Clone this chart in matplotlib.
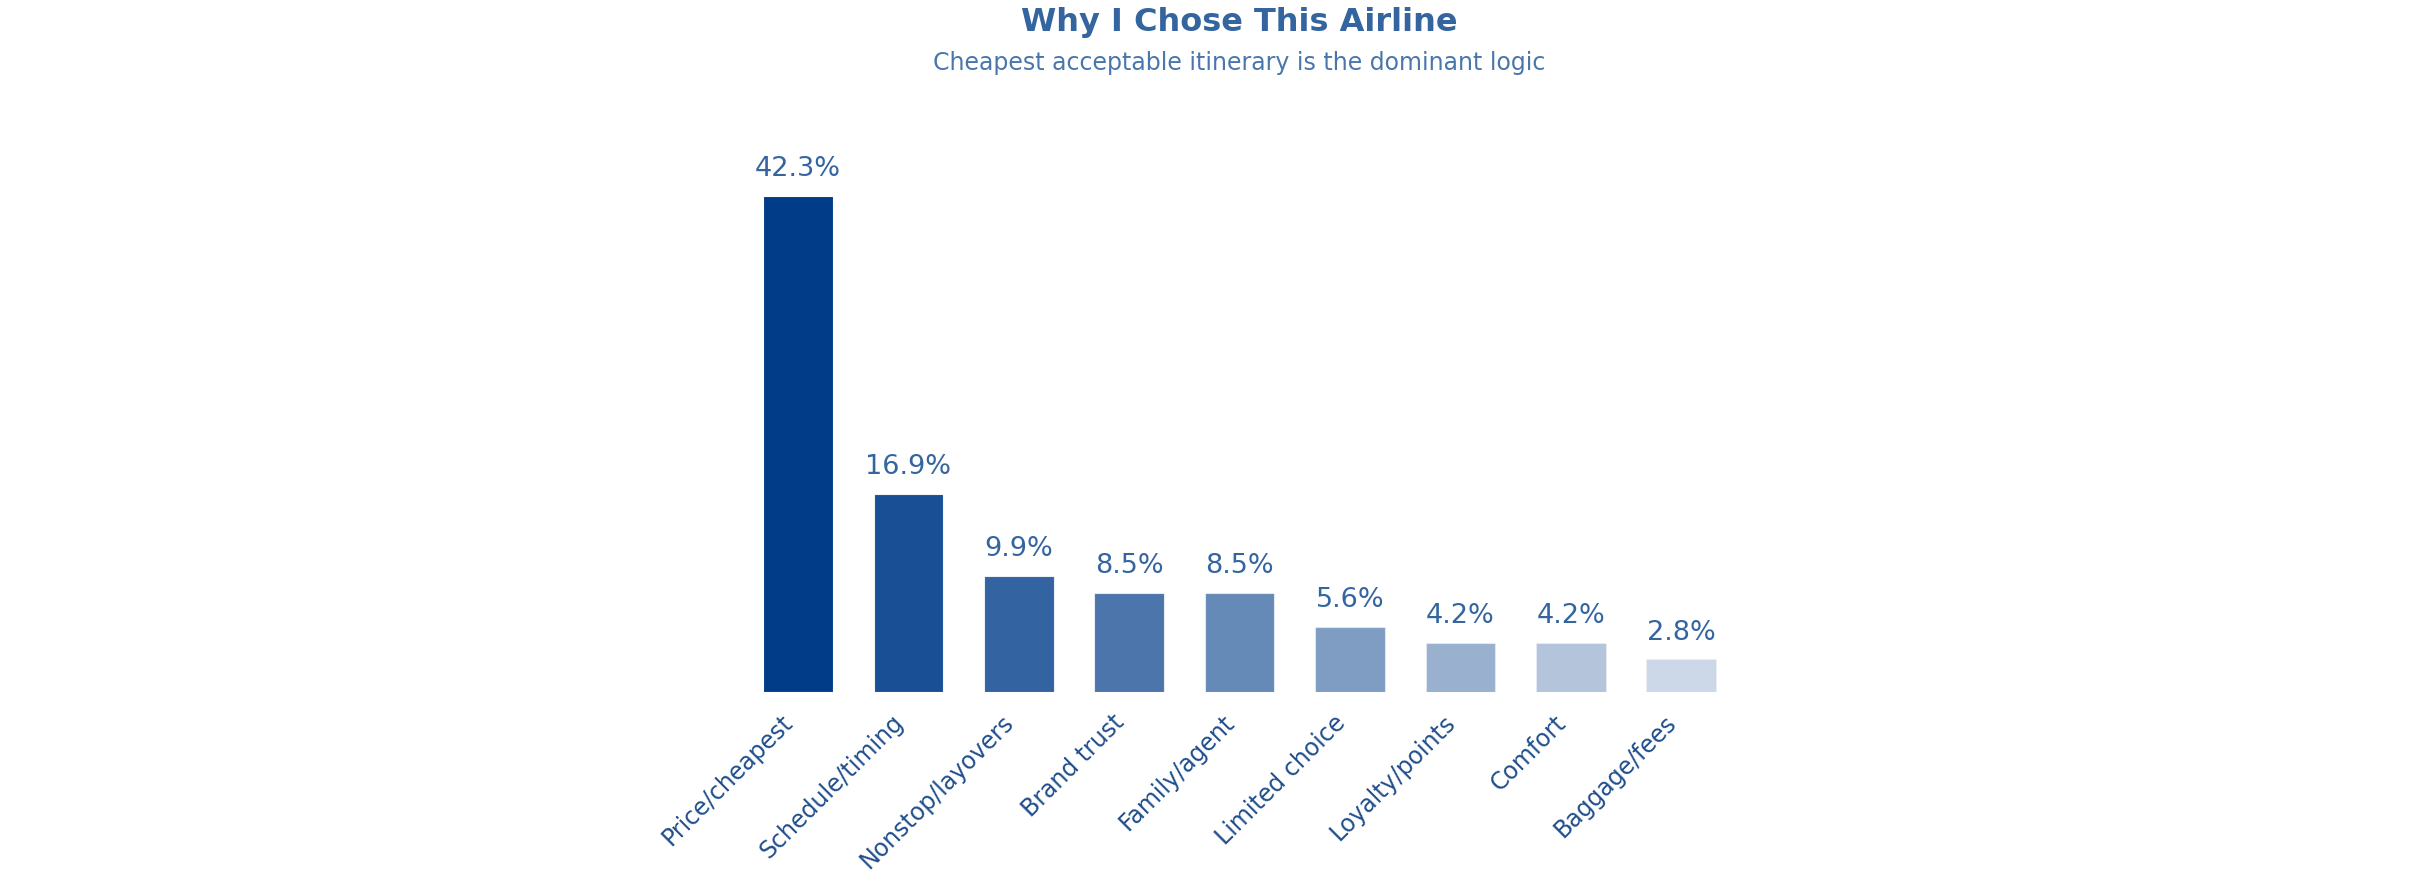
import matplotlib
matplotlib.use('Agg')
import matplotlib.pyplot as plt
import numpy as np

reasons = ['Price/cheapest', 'Schedule/timing', 'Nonstop/layovers', 'Brand trust',
           'Family/agent', 'Limited choice', 'Loyalty/points', 'Comfort', 'Baggage/fees']
shares = [42.3, 16.9, 9.9, 8.5, 8.5, 5.6, 4.2, 4.2, 2.8]

base_color = '#003c88'
alphas = np.linspace(1.0, 0.2, len(reasons))

fig = plt.figure(figsize=(24.16, 8.86), dpi=100)
ax = fig.add_axes([0.2962, 0.2186, 0.4338, 0.6625])

x = np.arange(len(reasons))
bars = ax.bar(x, shares, width=0.63, color=base_color, edgecolor='white', linewidth=0.8)
for b, a in zip(bars, alphas):
    b.set_alpha(a)

for xi, v in zip(x, shares):
    ax.annotate(f'{v}%', (xi, v), xytext=(0, 10), textcoords='offset points',
                ha='center', va='bottom', fontsize=19.5, color='#3465a0')

ax.set_ylim(0, 50)
ax.set_xticks(x)
ax.set_xticklabels(reasons, rotation=45, ha='right', fontsize=17, color='#1f4e8c')
ax.tick_params(axis='x', length=0, pad=13)
ax.set_yticks([])
for s in ax.spines.values():
    s.set_visible(False)

cx = 0.2962 + 0.4338 / 2
fig.text(cx, 1 - 23 / 886, 'Why I Chose This Airline', ha='center', va='center',
         fontsize=23, fontweight='bold', color='#34659f')
fig.text(cx, 1 - 63 / 886, 'Cheapest acceptable itinerary is the dominant logic',
         ha='center', va='center', fontsize=17, color='#4a77ab')

fig.savefig('out.png', dpi=100)
